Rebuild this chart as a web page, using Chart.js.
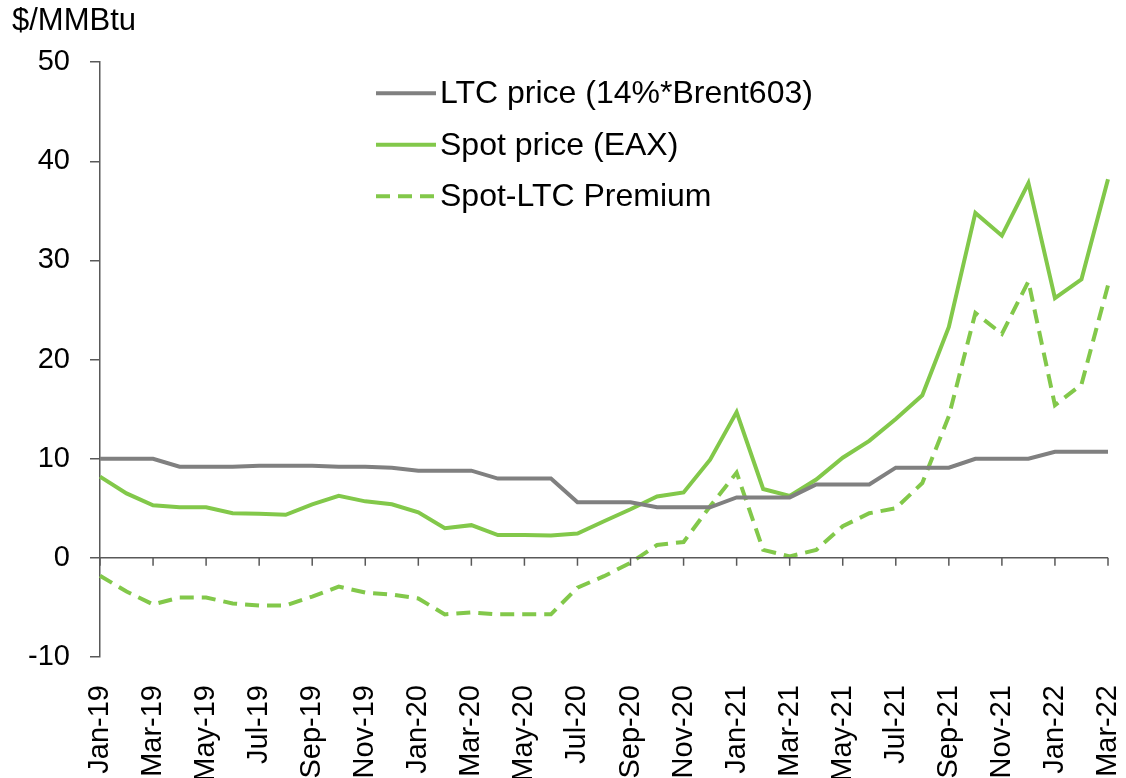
<!DOCTYPE html>
<html>
<head>
<meta charset="utf-8">
<script src="https://cdn.jsdelivr.net/npm/chart.js@4"></script>
<style>
  html, body { margin: 0; padding: 0; background: #fff; }
  #wrap { width: 1126px; height: 778px; }
</style>
</head>
<body>
<div id="wrap"><canvas id="myChart"></canvas></div>
<script>
var months = ["Jan-19", "Feb-19", "Mar-19", "Apr-19", "May-19", "Jun-19", "Jul-19", "Aug-19", "Sep-19", "Oct-19", "Nov-19", "Dec-19",
  "Jan-20", "Feb-20", "Mar-20", "Apr-20", "May-20", "Jun-20", "Jul-20", "Aug-20", "Sep-20", "Oct-20", "Nov-20", "Dec-20",
  "Jan-21", "Feb-21", "Mar-21", "Apr-21", "May-21", "Jun-21", "Jul-21", "Aug-21", "Sep-21", "Oct-21", "Nov-21", "Dec-21",
  "Jan-22", "Feb-22", "Mar-22"];

var ltcPrice = [10, 10, 10, 9.2, 9.2, 9.2, 9.3, 9.3, 9.3, 9.2, 9.2, 9.1,
  8.8, 8.8, 8.8, 8.0, 8.0, 8.0, 5.6, 5.6, 5.6, 5.1, 5.1, 5.1,
  6.1, 6.1, 6.1, 7.4, 7.4, 7.4, 9.1, 9.1, 9.1, 10.0, 10.0, 10.0,
  10.7, 10.7, 10.7];

var spotPrice = [8.2, 6.5, 5.3, 5.1, 5.1, 4.5, 4.45, 4.35, 5.4, 6.25, 5.7, 5.4,
  4.6, 3.0, 3.3, 2.3, 2.3, 2.25, 2.45, 3.7, 4.9, 6.2, 6.6, 9.9,
  14.7, 6.95, 6.25, 7.9, 10.1, 11.8, 14.0, 16.4, 23.3, 34.8, 32.5, 37.8,
  26.2, 28.1, 38.2];

var premium = [-1.8, -3.4, -4.7, -4.0, -4.0, -4.6, -4.8, -4.8, -3.9, -2.9, -3.5, -3.7,
  -4.1, -5.7, -5.5, -5.7, -5.7, -5.7, -3.0, -1.85, -0.5, 1.3, 1.6, 5.2,
  8.6, 0.8, 0.15, 0.8, 3.2, 4.5, 5.0, 7.55, 14.3, 24.7, 22.6, 27.9,
  15.4, 17.5, 27.5];

var yTicks = [-10, 0, 10, 20, 30, 40, 50];

var FONT = "'Liberation Sans', Arial, sans-serif";
var AXIS = "#595959";
var GREEN = "#82C84A";
var GREY = "#808080";

// zero line with the 2-monthly tick marks hanging below it
var zeroAxis = {
  id: "zeroAxis",
  afterDatasetsDraw: function (chart) {
    var c = chart.ctx, xs = chart.scales.x, ys = chart.scales.y;
    var y0 = ys.getPixelForValue(0);
    c.save();
    c.strokeStyle = AXIS;
    c.lineWidth = 1.5;
    c.beginPath();
    c.moveTo(chart.chartArea.left, y0);
    c.lineTo(chart.chartArea.right, y0);
    for (var i = 0; i < months.length; i += 2) {
      var x = xs.getPixelForValue(i);
      c.moveTo(x, y0);
      c.lineTo(x, y0 + 8);
    }
    c.stroke();
    c.restore();
  },
};

// legend inside the plot, stacked
var boxLegend = {
  id: "boxLegend",
  afterDraw: function (chart) {
    var c = chart.ctx, area = chart.chartArea;
    c.save();
    c.font = "32px " + FONT;
    c.textBaseline = "middle";
    c.fillStyle = "#000";
    chart.data.datasets.forEach(function (ds, i) {
      var y = area.top + 31 + i * 51.5;
      var x = area.left + 276;
      c.strokeStyle = ds.borderColor;
      c.lineWidth = ds.borderWidth;
      c.setLineDash(ds.borderDash || []);
      c.beginPath();
      c.moveTo(x, y);
      c.lineTo(x + 60, y);
      c.stroke();
      c.setLineDash([]);
      c.fillText(ds.label, x + 64, y + 1);
    });
    c.restore();
  },
};

var ctx = document.getElementById("myChart").getContext("2d");
var myChart = new Chart(ctx, {
  type: "line",
  data: {
    labels: months,
    datasets: [
      {
        label: "LTC price (14%*Brent603)",
        data: ltcPrice,
        borderColor: GREY,
        borderWidth: 4,
      },
      {
        label: "Spot price (EAX)",
        data: spotPrice,
        borderColor: GREEN,
        borderWidth: 4,
      },
      {
        label: "Spot-LTC Premium",
        data: premium,
        borderColor: GREEN,
        borderWidth: 4,
        borderDash: [14, 8],
      },
    ],
  },
  options: {
    responsive: true,
    maintainAspectRatio: false,
    animation: false,
    elements: {
      point: { radius: 0 },
      line: { tension: 0, fill: false },
    },
    layout: {
      padding: { left: 12, right: 18, top: 0, bottom: 0 },
    },
    scales: {
      x: {
        grid: { display: false },
        border: { display: false },
        afterFit: function (scale) {
          scale.height = 121;
          scale.paddingLeft = 0;
          scale.paddingRight = 0;
        },
        ticks: {
          autoSkip: false,
          maxRotation: 90,
          minRotation: 90,
          padding: 20,
          color: "#000",
          font: { family: FONT, size: 29 },
          callback: function (value, index) {
            return index % 2 === 0 ? months[index] : "";
          },
        },
      },
      y: {
        min: yTicks[0],
        max: yTicks[yTicks.length - 1],
        afterFit: function (scale) {
          scale.width = 88;
        },
        afterBuildTicks: function (scale) {
          scale.ticks = yTicks.map(function (v) {
            return { value: v };
          });
        },
        grid: {
          drawOnChartArea: false,
          drawTicks: true,
          tickLength: 10,
          color: AXIS,
          lineWidth: 1.5,
        },
        border: { display: true, color: AXIS, width: 1.5 },
        ticks: {
          padding: 20,
          color: "#000",
          font: { family: FONT, size: 29 },
        },
      },
    },
    plugins: {
      legend: { display: false },
      tooltip: { enabled: false },
      title: {
        display: true,
        text: "$/MMBtu",
        align: "start",
        color: "#000",
        font: { family: FONT, size: 31, weight: "normal" },
        padding: { top: 3, bottom: 22 },
      },
    },
  },
  plugins: [zeroAxis, boxLegend],
});
</script>
</body>
</html>
